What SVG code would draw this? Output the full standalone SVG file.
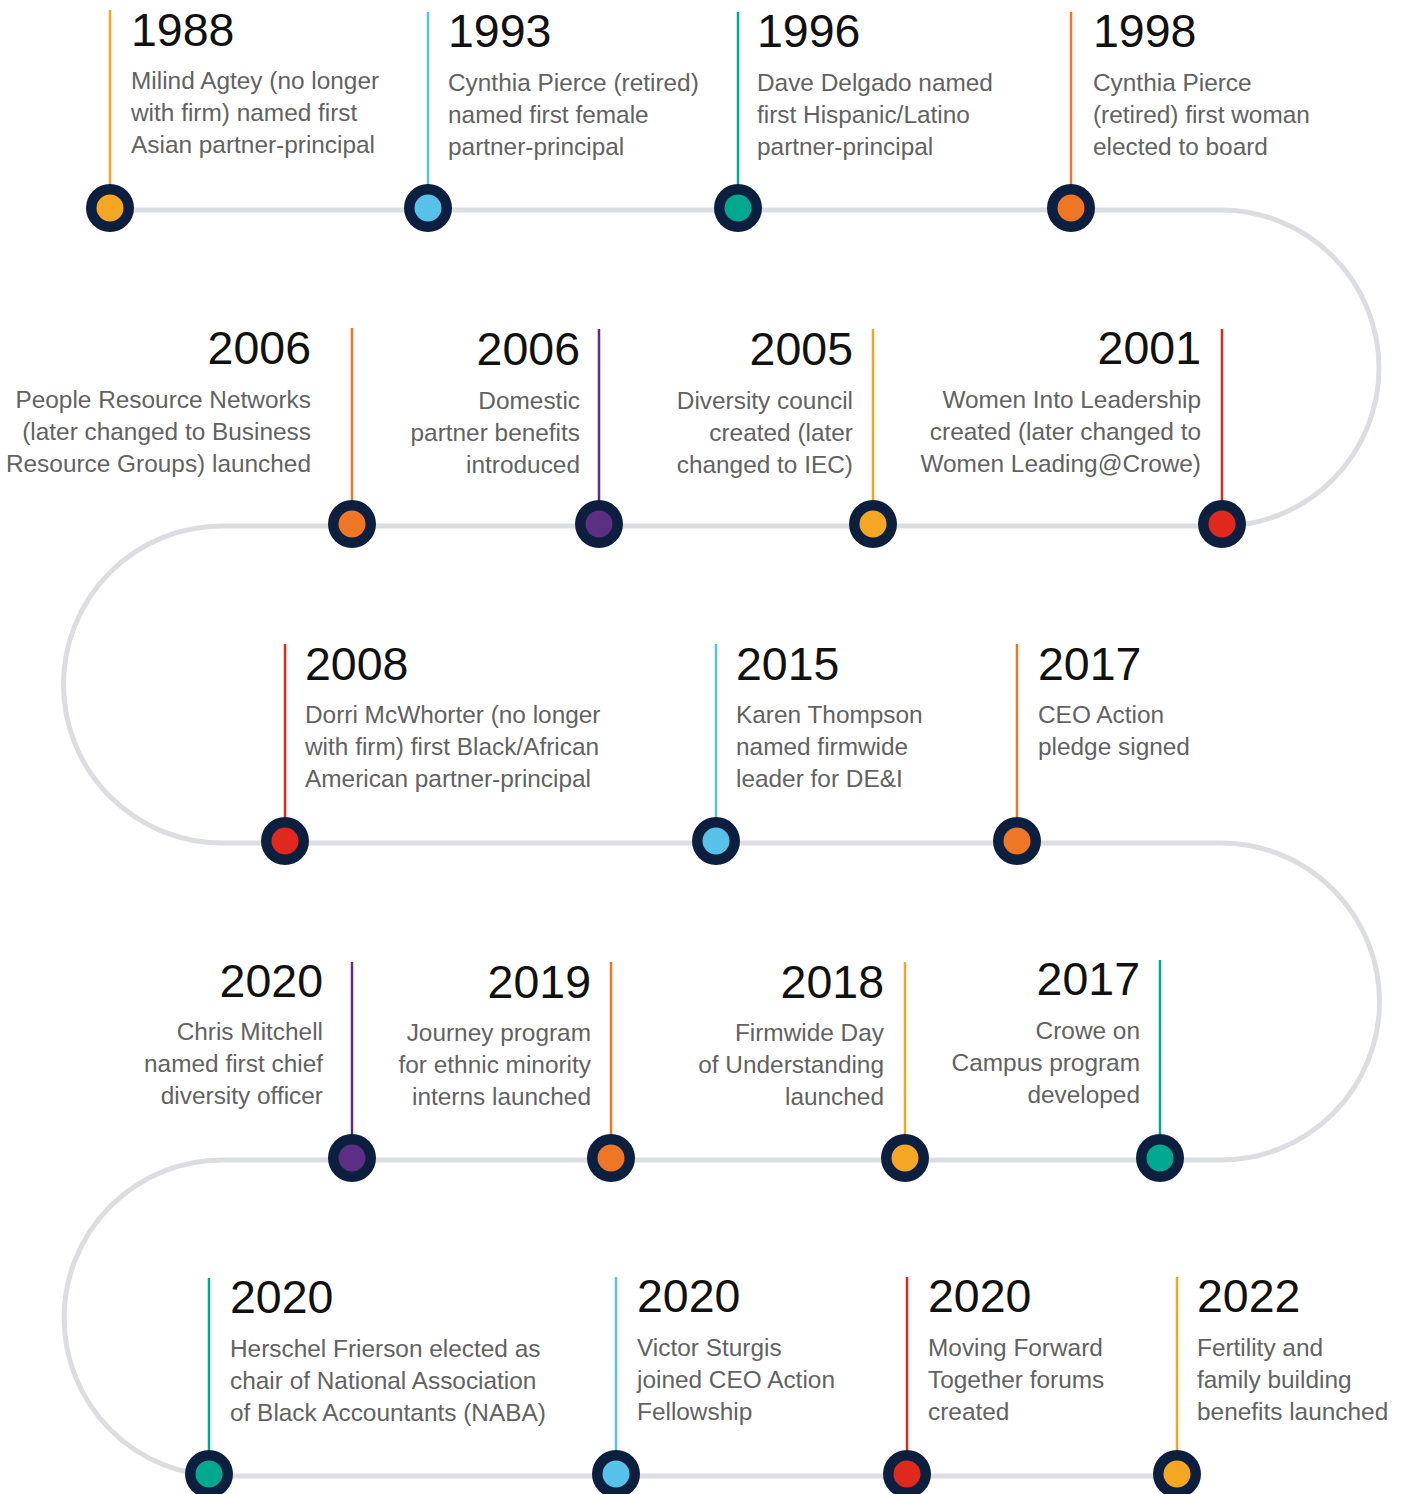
<svg xmlns="http://www.w3.org/2000/svg" width="1405" height="1494" viewBox="0 0 1405 1494">
<style>
.track{fill:none;stroke:#dcdde0;stroke-width:5}
.stem{stroke-width:2.5}
.ring{fill:#0c1f3e}
.yr{font-family:"Liberation Sans",Arial,sans-serif;font-size:46.5px;fill:#111}
.ds{font-family:"Liberation Sans",Arial,sans-serif;font-size:24.4px;fill:#626262}
.e{text-anchor:end}
.c-yel{stroke:#f5a623}.f-yel{fill:#f5a623}
.c-blu{stroke:#58c1ea}.f-blu{fill:#58c1ea}
.c-tea{stroke:#00a890}.f-tea{fill:#00a890}
.c-ora{stroke:#ee7624}.f-ora{fill:#ee7624}
.c-pur{stroke:#5c2e84}.f-pur{fill:#5c2e84}
.c-red{stroke:#e0281e}.f-red{fill:#e0281e}
</style>
<rect width="1405" height="1494" fill="#ffffff"/>
<g id="connectors">
<path class="track" d="M110,210 H1221 A158,158 0 0 1 1221,526 H222 A158.5,158.5 0 0 0 222,843 H1221 A158.5,158.5 0 0 1 1221,1160 H222 A158,158 0 0 0 222,1476 H1177"/>
</g>
<!-- Row 1 -->
<g id="n1988">
<line class="stem c-yel" x1="110" y1="10" x2="110" y2="208"/>
<circle class="ring" cx="110" cy="208" r="24"/><circle class="f-yel" cx="110" cy="208" r="13.5"/>
<text class="yr" x="131" y="46">1988</text>
<text class="ds" x="131" y="89">Milind Agtey (no longer</text>
<text class="ds" x="131" y="121">with firm) named first</text>
<text class="ds" x="131" y="153">Asian partner-principal</text>
</g>
<g id="n1993">
<line class="stem c-blu" x1="428" y1="12" x2="428" y2="208"/>
<circle class="ring" cx="428" cy="208" r="24"/><circle class="f-blu" cx="428" cy="208" r="13.5"/>
<text class="yr" x="448" y="47">1993</text>
<text class="ds" x="448" y="91">Cynthia Pierce (retired)</text>
<text class="ds" x="448" y="123">named first female</text>
<text class="ds" x="448" y="155">partner-principal</text>
</g>
<g id="n1996">
<line class="stem c-tea" x1="738" y1="12" x2="738" y2="208"/>
<circle class="ring" cx="738" cy="208" r="24"/><circle class="f-tea" cx="738" cy="208" r="13.5"/>
<text class="yr" x="757" y="47">1996</text>
<text class="ds" x="757" y="91">Dave Delgado named</text>
<text class="ds" x="757" y="123">first Hispanic/Latino</text>
<text class="ds" x="757" y="155">partner-principal</text>
</g>
<g id="n1998">
<line class="stem c-ora" x1="1071" y1="12" x2="1071" y2="208"/>
<circle class="ring" cx="1071" cy="208" r="24"/><circle class="f-ora" cx="1071" cy="208" r="13.5"/>
<text class="yr" x="1093" y="47">1998</text>
<text class="ds" x="1093" y="91">Cynthia Pierce</text>
<text class="ds" x="1093" y="123">(retired) first woman</text>
<text class="ds" x="1093" y="155">elected to board</text>
</g>
<!-- Row 2 -->
<g id="n2006a">
<line class="stem c-ora" x1="352" y1="328" x2="352" y2="524"/>
<circle class="ring" cx="352" cy="524" r="24"/><circle class="f-ora" cx="352" cy="524" r="13.5"/>
<text class="yr e" x="311" y="364">2006</text>
<text class="ds e" x="311" y="408">People Resource Networks</text>
<text class="ds e" x="311" y="440">(later changed to Business</text>
<text class="ds e" x="311" y="472">Resource Groups) launched</text>
</g>
<g id="n2006b">
<line class="stem c-pur" x1="599" y1="329" x2="599" y2="524"/>
<circle class="ring" cx="599" cy="524" r="24"/><circle class="f-pur" cx="599" cy="524" r="13.5"/>
<text class="yr e" x="580" y="365">2006</text>
<text class="ds e" x="580" y="409">Domestic</text>
<text class="ds e" x="580" y="441">partner benefits</text>
<text class="ds e" x="580" y="473">introduced</text>
</g>
<g id="n2005">
<line class="stem c-yel" x1="873" y1="329" x2="873" y2="524"/>
<circle class="ring" cx="873" cy="524" r="24"/><circle class="f-yel" cx="873" cy="524" r="13.5"/>
<text class="yr e" x="853" y="365">2005</text>
<text class="ds e" x="853" y="409">Diversity council</text>
<text class="ds e" x="853" y="441">created (later</text>
<text class="ds e" x="853" y="473">changed to IEC)</text>
</g>
<g id="n2001">
<line class="stem c-red" x1="1222" y1="329" x2="1222" y2="524"/>
<circle class="ring" cx="1222" cy="524" r="24"/><circle class="f-red" cx="1222" cy="524" r="13.5"/>
<text class="yr e" x="1201" y="364">2001</text>
<text class="ds e" x="1201" y="408">Women Into Leadership</text>
<text class="ds e" x="1201" y="440">created (later changed to</text>
<text class="ds e" x="1201" y="472">Women Leading@Crowe)</text>
</g>
<!-- Row 3 -->
<g id="n2008">
<line class="stem c-red" x1="285" y1="644" x2="285" y2="841"/>
<circle class="ring" cx="285" cy="841" r="24"/><circle class="f-red" cx="285" cy="841" r="13.5"/>
<text class="yr" x="305" y="680">2008</text>
<text class="ds" x="305" y="723">Dorri McWhorter (no longer</text>
<text class="ds" x="305" y="755">with firm) first Black/African</text>
<text class="ds" x="305" y="787">American partner-principal</text>
</g>
<g id="n2015">
<line class="stem c-blu" x1="716" y1="644" x2="716" y2="841"/>
<circle class="ring" cx="716" cy="841" r="24"/><circle class="f-blu" cx="716" cy="841" r="13.5"/>
<text class="yr" x="736" y="680">2015</text>
<text class="ds" x="736" y="723">Karen Thompson</text>
<text class="ds" x="736" y="755">named firmwide</text>
<text class="ds" x="736" y="787">leader for DE&amp;I</text>
</g>
<g id="n2017a">
<line class="stem c-ora" x1="1017" y1="644" x2="1017" y2="841"/>
<circle class="ring" cx="1017" cy="841" r="24"/><circle class="f-ora" cx="1017" cy="841" r="13.5"/>
<text class="yr" x="1038" y="680">2017</text>
<text class="ds" x="1038" y="723">CEO Action</text>
<text class="ds" x="1038" y="755">pledge signed</text>
</g>
<!-- Row 4 -->
<g id="n2020a">
<line class="stem c-pur" x1="352" y1="962" x2="352" y2="1158"/>
<circle class="ring" cx="352" cy="1158" r="24"/><circle class="f-pur" cx="352" cy="1158" r="13.5"/>
<text class="yr e" x="323" y="997">2020</text>
<text class="ds e" x="323" y="1040">Chris Mitchell</text>
<text class="ds e" x="323" y="1072">named first chief</text>
<text class="ds e" x="323" y="1104">diversity officer</text>
</g>
<g id="n2019">
<line class="stem c-ora" x1="611" y1="962" x2="611" y2="1158"/>
<circle class="ring" cx="611" cy="1158" r="24"/><circle class="f-ora" cx="611" cy="1158" r="13.5"/>
<text class="yr e" x="591" y="998">2019</text>
<text class="ds e" x="591" y="1041">Journey program</text>
<text class="ds e" x="591" y="1073">for ethnic minority</text>
<text class="ds e" x="591" y="1105">interns launched</text>
</g>
<g id="n2018">
<line class="stem c-yel" x1="905" y1="962" x2="905" y2="1158"/>
<circle class="ring" cx="905" cy="1158" r="24"/><circle class="f-yel" cx="905" cy="1158" r="13.5"/>
<text class="yr e" x="884" y="998">2018</text>
<text class="ds e" x="884" y="1041">Firmwide Day</text>
<text class="ds e" x="884" y="1073">of Understanding</text>
<text class="ds e" x="884" y="1105">launched</text>
</g>
<g id="n2017b">
<line class="stem c-tea" x1="1160" y1="960" x2="1160" y2="1158"/>
<circle class="ring" cx="1160" cy="1158" r="24"/><circle class="f-tea" cx="1160" cy="1158" r="13.5"/>
<text class="yr e" x="1140" y="995">2017</text>
<text class="ds e" x="1140" y="1039">Crowe on</text>
<text class="ds e" x="1140" y="1071">Campus program</text>
<text class="ds e" x="1140" y="1103">developed</text>
</g>
<!-- Row 5 -->
<g id="n2020b">
<line class="stem c-tea" x1="209" y1="1278" x2="209" y2="1474"/>
<circle class="ring" cx="209" cy="1474" r="24"/><circle class="f-tea" cx="209" cy="1474" r="13.5"/>
<text class="yr" x="230" y="1313">2020</text>
<text class="ds" x="230" y="1357">Herschel Frierson elected as</text>
<text class="ds" x="230" y="1389">chair of National Association</text>
<text class="ds" x="230" y="1421">of Black Accountants (NABA)</text>
</g>
<g id="n2020c">
<line class="stem c-blu" x1="616" y1="1277" x2="616" y2="1474"/>
<circle class="ring" cx="616" cy="1474" r="24"/><circle class="f-blu" cx="616" cy="1474" r="13.5"/>
<text class="yr" x="637" y="1312">2020</text>
<text class="ds" x="637" y="1356">Victor Sturgis</text>
<text class="ds" x="637" y="1388">joined CEO Action</text>
<text class="ds" x="637" y="1420">Fellowship</text>
</g>
<g id="n2020d">
<line class="stem c-red" x1="907" y1="1277" x2="907" y2="1474"/>
<circle class="ring" cx="907" cy="1474" r="24"/><circle class="f-red" cx="907" cy="1474" r="13.5"/>
<text class="yr" x="928" y="1312">2020</text>
<text class="ds" x="928" y="1356">Moving Forward</text>
<text class="ds" x="928" y="1388">Together forums</text>
<text class="ds" x="928" y="1420">created</text>
</g>
<g id="n2022">
<line class="stem c-yel" x1="1177" y1="1277" x2="1177" y2="1474"/>
<circle class="ring" cx="1177" cy="1474" r="24"/><circle class="f-yel" cx="1177" cy="1474" r="13.5"/>
<text class="yr" x="1197" y="1312">2022</text>
<text class="ds" x="1197" y="1356">Fertility and</text>
<text class="ds" x="1197" y="1388">family building</text>
<text class="ds" x="1197" y="1420">benefits launched</text>
</g>
</svg>
